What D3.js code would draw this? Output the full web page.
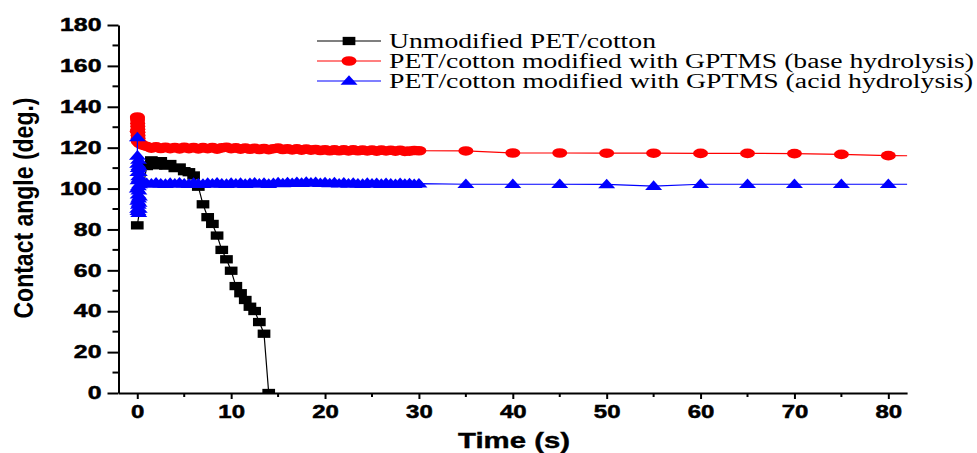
<!DOCTYPE html>
<html><head><meta charset="utf-8">
<script src="https://cdn.jsdelivr.net/npm/d3@7"></script>
<style>body{margin:0;background:#fff;} svg{display:block;}</style>
</head><body>
<svg id="chart" width="977" height="453"></svg>
<script>
// ---------- DATA ----------
const blackTime  = [0, 1, 1.5, 2, 2.5, 3, 3.5, 4, 4.5, 5, 5.5, 6, 6.5, 7, 7.5, 8, 8.5, 9, 9.5, 10, 10.5, 11, 11.5, 12, 12.5, 13, 13.5, 14];
const blackValue = [82, 111, 113.8, 111.4, 113.4, 111.2, 112, 110, 110.3, 108.5, 108, 106.4, 100.9, 92.3, 86, 82.7, 77, 70, 65.4, 59.8, 52.3, 48.8, 45.5, 42.2, 40.1, 34.7, 29, 0];

const redTime  = [0, 0.01, 0.02, 0.03, 0.04, 0.05, 0.06, 0.07, 0.08, 0.09, 0.1, 0.3, 0.6,
  1, 1.5, 2, 2.5, 3, 3.5, 4, 4.5, 5, 5.5, 6, 6.5, 7, 7.5, 8, 8.5, 9, 9.5, 10, 10.5, 11, 11.5, 12, 12.5, 13, 13.5, 14, 14.5, 15,
  15.5, 16, 16.5, 17, 17.5, 18, 18.5, 19, 19.5, 20, 20.5, 21, 21.5, 22, 22.5, 23, 23.5, 24, 24.5, 25, 25.5, 26, 26.5, 27, 27.5, 28, 28.5, 29, 29.5, 30,
  35, 40, 45, 50, 55, 60, 65, 70, 75, 80, 85];
const redValue = [128, 135, 134.5, 133.5, 132, 130.5, 129, 127.5, 126, 124.5, 123, 122, 121.2,
  120.6, 119.8, 120.4, 119.6, 120.2, 119.5, 120.1, 119.4, 120.2, 119.5, 120.1, 119.4, 120, 119.5, 120.1, 119.3, 119.9, 120.2, 119.5, 119.9, 119.3, 119.8, 119.2, 119.7, 119.1, 119.6, 119, 119.5, 119.8,
  119.1, 119.5, 118.9, 119.4, 118.8, 119.3, 118.8, 119.1, 118.6, 119, 118.5, 118.9, 118.5, 118.9, 118.4, 118.9, 118.5, 118.8, 118.4, 118.8, 118.3, 118.8, 118.4, 118.7, 118.3, 118.7, 118.2, 118.3, 118.6, 118.5,
  118.4, 117.4, 117.4, 117.3, 117.3, 117.2, 117.2, 117.1, 116.7, 116.1, 116];

const blueTime  = [0, 0.01, 0.02, 0.03, 0.04, 0.05, 0.06, 0.07, 0.08, 0.09, 0.1, 0.11, 0.12, 0.13, 0.14, 0.15, 0.16, 0.17, 0.18, 0.19, 0.2, 0.21, 0.22, 0.23, 0.24, 0.5,
  1, 1.5, 2, 2.5, 3, 3.5, 4, 4.5, 5, 5.5, 6, 6.5, 7, 7.5, 8, 8.5, 9, 9.5, 10, 10.5, 11, 11.5, 12, 12.5, 13, 13.5, 14, 14.5, 15,
  15.5, 16, 16.5, 17, 17.5, 18, 18.5, 19, 19.5, 20, 20.5, 21, 21.5, 22, 22.5, 23, 23.5, 24, 24.5, 25, 25.5, 26, 26.5, 27, 27.5, 28, 28.5, 29, 29.5, 30,
  35, 40, 45, 50, 55, 60, 65, 70, 75, 80, 85];
const blueValue = [100, 125, 116, 90, 112, 94, 108, 89, 104, 97, 110, 92, 101, 114, 95, 106, 88, 99, 111, 93, 105, 90, 108, 96, 102, 103,
  102.6, 102.3, 102.8, 102.4, 102.2, 102.7, 102.3, 102.8, 102.4, 102.2, 102.7, 102.4, 102.2, 102.7, 102.3, 102.8, 102.4, 102.2, 102.7, 102.3, 102.7, 102.2, 102.6, 102.8, 102.3, 102.7, 102.2, 102.6, 102.9,
  102.5, 103, 102.6, 103.1, 102.7, 103.2, 102.8, 103.1, 102.6, 103, 102.5, 102.9, 102.4, 102.8, 102.3, 102.7, 102.4, 102.2, 102.7, 102.3, 102.6, 102.2, 102.6, 102.3, 102.1, 102.6, 102.2, 102.5, 102.1, 102.4,
  102.1, 102.1, 102.1, 102.0, 101.2, 102.1, 102.1, 102.1, 102.1, 102.1, 102.1];

const xTicks = [0, 10, 20, 30, 40, 50, 60, 70, 80];
const xMinorTicks = [5, 15, 25, 35, 45, 55, 65, 75];
const yTicks = [0, 20, 40, 60, 80, 100, 120, 140, 160, 180];
const yMinorTicks = [10, 30, 50, 70, 90, 110, 130, 150, 170];
const legendLabels = ["Unmodified PET/cotton", "PET/cotton modified with GPTMS (base hydrolysis)", "PET/cotton modified with GPTMS (acid hydrolysis)"];
const xTitle = "Time (s)";
const yTitle = "Contact angle (deg.)";

// ---------- CHART ----------
const svg = d3.select("#chart");
const x = d3.scaleLinear().domain([-2, 82]).range([118.5, 907.1]);
const y = d3.scaleLinear().domain([0, 180]).range([393, 25]);

function stretch(sel, factor) {
  sel.each(function () {
    const w = this.getComputedTextLength();
    d3.select(this).attr("textLength", w * factor).attr("lengthAdjust", "spacingAndGlyphs");
  });
}
function fitTo(sel, width) {
  sel.attr("textLength", width).attr("lengthAdjust", "spacingAndGlyphs");
}

const tickFont = "'Liberation Sans', Arial, sans-serif";

// X axis
const gx = svg.append("g").attr("transform", `translate(0,${y(0)})`)
  .call(d3.axisBottom(x).tickValues(xTicks).tickSize(6).tickSizeOuter(0).tickPadding(6));
gx.select(".domain").attr("stroke", "#000").attr("stroke-width", 2);
gx.selectAll(".tick line").attr("stroke-width", 2);
gx.selectAll(".tick text").attr("font-family", tickFont).attr("font-weight", "bold").attr("font-size", 18)
  .attr("fill", "#000").attr("stroke", "#000").attr("stroke-width", 0.5);
gx.selectAll(".minor").data(xMinorTicks).enter().append("line").attr("class", "minor")
  .attr("x1", d => x(d)).attr("x2", d => x(d)).attr("y1", 0).attr("y2", 4)
  .attr("stroke", "#000").attr("stroke-width", 2);

// Y axis
const gy = svg.append("g").attr("transform", `translate(${x(-2)},0)`)
  .call(d3.axisLeft(y).tickValues(yTicks).tickSize(11).tickSizeOuter(0).tickPadding(6));
gy.select(".domain").attr("stroke", "#000").attr("stroke-width", 2);
gy.selectAll(".tick line").attr("stroke-width", 2);
gy.selectAll(".tick text").attr("font-family", tickFont).attr("font-weight", "bold").attr("font-size", 18)
  .attr("fill", "#000").attr("stroke", "#000").attr("stroke-width", 0.5);
gy.selectAll(".minor").data(yMinorTicks).enter().append("line").attr("class", "minor")
  .attr("x1", -6).attr("x2", 0).attr("y1", d => y(d)).attr("y2", d => y(d))
  .attr("stroke", "#000").attr("stroke-width", 2);

stretch(gx.selectAll(".tick text"), 1.33);
stretch(gy.selectAll(".tick text"), 1.38);

// Titles
const xt = svg.append("text").attr("x", 514).attr("y", 448).attr("text-anchor", "middle")
  .attr("font-family", tickFont).attr("font-weight", "bold").attr("font-size", 22)
  .attr("stroke", "#000").attr("stroke-width", 0.4).text(xTitle);
fitTo(xt, 112);
const yt = svg.append("text").attr("transform", "translate(33,208) rotate(-90)").attr("text-anchor", "middle")
  .attr("font-family", tickFont).attr("font-weight", "bold").attr("font-size", 28).text(yTitle);
fitTo(yt, 221);

// Clip
svg.append("clipPath").attr("id", "plotclip").append("rect")
  .attr("x", x(-2)).attr("y", 0).attr("width", x(82) - x(-2)).attr("height", y(0));

const plot = svg.append("g").attr("clip-path", "url(#plotclip)");

function zip(t, v) { return t.map((d, i) => ({ t: d, v: v[i] })); }
const line = d3.line().x(d => x(d.t)).y(d => y(d.v));

const sqW = 12.7, sqH = 8.3, ciRx = 7.5, ciRy = 4.8, trW = 17, trH = 9.6;
function triPath(cx, cy) {
  return `M${cx - trW / 2},${cy + trH * 0.4}L${cx + trW / 2},${cy + trH * 0.4}L${cx},${cy - trH * 0.6}Z`;
}

// Black series
const blackData = zip(blackTime, blackValue);
plot.append("path").datum(blackData).attr("d", line).attr("fill", "none").attr("stroke", "#000").attr("stroke-width", 1.2);
plot.selectAll(".sq").data(blackData).enter().append("rect").attr("class", "sq")
  .attr("x", d => x(d.t) - sqW / 2).attr("y", d => y(d.v) - sqH / 2).attr("width", sqW).attr("height", sqH).attr("fill", "#000");

// Red series
const redData = zip(redTime, redValue);
plot.append("path").datum(redData).attr("d", line).attr("fill", "none").attr("stroke", "#ff0000").attr("stroke-width", 1.2);
plot.selectAll(".ci").data(redData).enter().append("ellipse").attr("class", "ci")
  .attr("cx", d => x(d.t)).attr("cy", d => y(d.v)).attr("rx", ciRx).attr("ry", ciRy).attr("fill", "#ff0000");

// Blue series
const blueData = zip(blueTime, blueValue);
plot.append("path").datum(blueData).attr("d", line).attr("fill", "none").attr("stroke", "#0000ff").attr("stroke-width", 1.2);
plot.selectAll(".tr").data(blueData).enter().append("path").attr("class", "tr")
  .attr("d", d => triPath(x(d.t), y(d.v))).attr("fill", "#0000ff");

// Legend
const legendColors = ["#000", "#ff0000", "#0000ff"];
const legendWidths = [267, 585, 584];
const lg = svg.append("g");
legendLabels.forEach((lab, i) => {
  const cy = 41 + i * 20;
  lg.append("line").attr("x1", 317).attr("x2", 381).attr("y1", cy).attr("y2", cy)
    .attr("stroke", legendColors[i]).attr("stroke-width", 1.2);
  if (i === 0) lg.append("rect").attr("x", 349 - sqW / 2).attr("y", cy - sqH / 2).attr("width", sqW).attr("height", sqH).attr("fill", "#000");
  if (i === 1) lg.append("ellipse").attr("cx", 349).attr("cy", cy).attr("rx", ciRx).attr("ry", ciRy).attr("fill", "#ff0000");
  if (i === 2) lg.append("path").attr("d", triPath(349, cy)).attr("fill", "#0000ff");
  const t = lg.append("text").attr("x", 389).attr("y", cy + 7)
    .attr("font-family", "'Liberation Serif', 'Times New Roman', serif").attr("font-size", 20).attr("fill", "#000").text(lab);
  fitTo(t, legendWidths[i]);
});
</script>
</body></html>
